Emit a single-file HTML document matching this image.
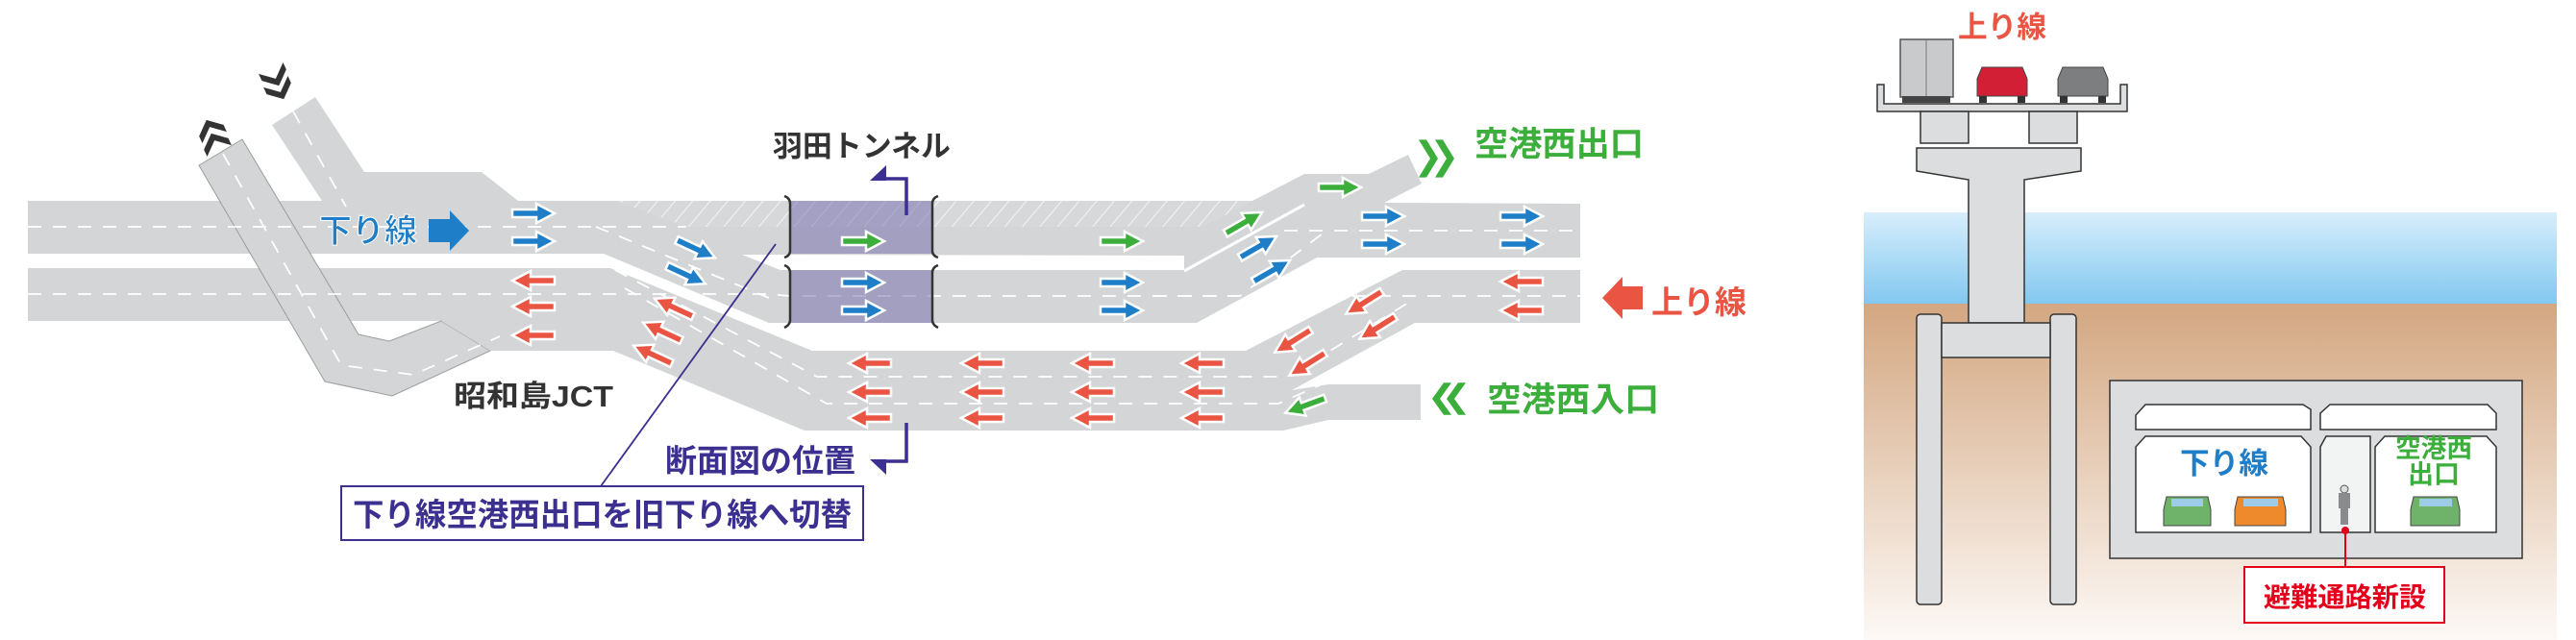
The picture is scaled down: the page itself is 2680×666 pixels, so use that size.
<!DOCTYPE html>
<html><head><meta charset="utf-8"><style>
html,body{margin:0;padding:0;background:#fff;}
svg{display:block;}
text{font-family:"Liberation Sans","Noto Sans CJK JP",sans-serif;font-weight:bold;}
</style></head><body>
<svg width="2680" height="666" viewBox="0 0 2680 666" xmlns="http://www.w3.org/2000/svg">
<defs>
<path id="ar" d="M-22,-4 L3,-4 L3,-10 L22,0 L3,10 L3,4 L-22,4 Z" stroke="#fff" stroke-width="2.5" stroke-linejoin="miter"/>
<path id="chev" d="M-10,-14 L-2,-14 L10,0 L-2,14 L-10,14 L2,0 Z"/>
<pattern id="hatch" width="14" height="14" patternUnits="userSpaceOnUse" patternTransform="rotate(40)">
<rect width="14" height="14" fill="#d6d8d9"/><line x1="0" y1="0" x2="0" y2="14" stroke="#f4f4f4" stroke-width="2"/></pattern>
<linearGradient id="sea" x1="0" y1="0" x2="0" y2="1"><stop offset="0" stop-color="#d8eefb"/><stop offset="1" stop-color="#82c8ef"/></linearGradient>
<linearGradient id="soil" x1="0" y1="0" x2="0" y2="1"><stop offset="0" stop-color="#d3a781"/><stop offset="1" stop-color="#fdf9f6"/></linearGradient>
</defs>

<polygon points="283,130 328,101 379,179 501,179 539,209 335,209" fill="#d3d5d6"/>
<polygon points="29,209 1303,209 1357,181 1424,181 1465,161 1479,191 1440,211 1644,212 1644,268 1370,268 1245,336 800,336 628,264 29,264" fill="#d3d5d6"/>
<polygon points="29,279 635,279 845,365 1296,365 1459,281 1644,281 1644,336 1472,336 1344,406 1382,400 1478,400 1478,437 1382,437 1335,448 837,448 638,365 510,365 459,334 29,334" fill="#d3d5d6"/>
<polygon points="772,265 1232,266 1232,281 812,281" fill="#fff"/>
<polygon points="641,209 1303,209 1252,236 714,236" fill="url(#hatch)"/>
<line x1="1232" y1="282" x2="1357" y2="213" stroke="#fff" stroke-width="3"/>

<polygon points="207,172 252,145 373,348 405,355 459,334 510,365 408,412 338,397" fill="#d3d5d6" stroke="#9a9c9e" stroke-width="1"/>
<polygon points="459,334 510,365 638,365 637,334" fill="#d3d5d6"/>

<g stroke="#fff" stroke-width="1.8" stroke-dasharray="14,12" fill="none">
<path d="M29,236 L714,236"/>
<path d="M29,306 L800,306 L821,308 L1644,308"/>
<path d="M1336,240 L1644,240"/>
<path d="M1200,308 L1290,308 L1380,240"/>
<path d="M640,281 L850,392 L1340,392 L1470,312"/>
<path d="M650,300 L860,420 L1330,420 L1375,400"/>
<path d="M232,160 L355,380 L430,390 L520,350"/>
<path d="M305,116 L360,215"/>
<path d="M620,236 L800,310"/>
</g>

<rect x="821" y="209" width="150" height="55" fill="#7a73b0" opacity="0.55"/>
<rect x="821" y="281" width="150" height="55" fill="#7a73b0" opacity="0.55"/>
<g stroke="#333" stroke-width="2.5" fill="none">
<path d="M816,204 Q822,206 822,212 L822,261 Q822,266 816,268"/>
<path d="M976,204 Q970,206 970,212 L970,261 Q970,266 976,268"/>
<path d="M816,276 Q822,278 822,284 L822,333 Q822,338 816,341"/>
<path d="M976,276 Q970,278 970,284 L970,333 Q970,338 976,341"/>
</g>

<path d="M943,224 L943,186 L918,186" stroke="#3b2f8f" stroke-width="3.5" fill="none"/>
<polygon points="922,172 922,188 905,188" fill="#3b2f8f"/>
<path d="M943,440 L943,480 L918,480" stroke="#3b2f8f" stroke-width="3.5" fill="none"/>
<polygon points="922,478 922,494 905,478" fill="#3b2f8f"/>
<line x1="625" y1="506" x2="807" y2="254" stroke="#3b2f8f" stroke-width="1.8"/>
<rect x="355" y="506" width="543" height="56" fill="#fff" stroke="#3b2f8f" stroke-width="2"/>
<text x="367" y="547" font-size="33" fill="#3b2f8f" textLength="519" lengthAdjust="spacingAndGlyphs">下り線空港西出口を旧下り線へ切替</text>

<g fill="#333">
<use href="#chev" transform="translate(219,134) rotate(-115)"/>
<use href="#chev" transform="translate(224,148) rotate(-115)"/>
<use href="#chev" transform="translate(286,80) rotate(65)"/>
<use href="#chev" transform="translate(291,94) rotate(65)"/>
</g>
<g fill="#3bae3b">
<use href="#chev" transform="translate(1486,165) scale(1,1.4)"/>
<use href="#chev" transform="translate(1503,165) scale(1,1.4)"/>
<use href="#chev" transform="translate(1500,415) rotate(180) scale(1,1.2)"/>
<use href="#chev" transform="translate(1515,415) rotate(180) scale(1,1.2)"/>
</g>

<path d="M446,228 L468,228 L468,219 L488,240 L468,261 L468,252 L446,252 Z" fill="#1f7ec8"/>
<path d="M1709,298 L1688,298 L1688,288 L1667,310 L1688,332 L1688,322 L1709,322 Z" fill="#ea5543"/>

<g fill="#1f7ec8">
<use href="#ar" transform="translate(555,222)"/><use href="#ar" transform="translate(555,251)"/>
<use href="#ar" transform="translate(724,259) rotate(25)"/><use href="#ar" transform="translate(714,286) rotate(25)"/>
<use href="#ar" transform="translate(898,294)"/><use href="#ar" transform="translate(898,323)"/>
<use href="#ar" transform="translate(1167,294)"/><use href="#ar" transform="translate(1167,323)"/>
<use href="#ar" transform="translate(1439,225)"/><use href="#ar" transform="translate(1439,254)"/>
<use href="#ar" transform="translate(1583,225)"/><use href="#ar" transform="translate(1583,254)"/>
<use href="#ar" transform="translate(1309,257) rotate(-30)"/><use href="#ar" transform="translate(1323,282) rotate(-30)"/>
</g>
<g fill="#3bae3b">
<use href="#ar" transform="translate(898,251)"/><use href="#ar" transform="translate(1167,251)"/>
<use href="#ar" transform="translate(1394,195)"/><use href="#ar" transform="translate(1294,232) rotate(-30)"/>
<use href="#ar" transform="translate(1358,422) rotate(160)"/>
</g>
<g fill="#ea5543">
<use href="#ar" transform="translate(555,292) rotate(180)"/><use href="#ar" transform="translate(555,319) rotate(180)"/><use href="#ar" transform="translate(555,349) rotate(180)"/>
<use href="#ar" transform="translate(701,320) rotate(205)"/><use href="#ar" transform="translate(689,345) rotate(205)"/><use href="#ar" transform="translate(679,369) rotate(205)"/>
<use href="#ar" transform="translate(905,378) rotate(180)"/><use href="#ar" transform="translate(905,408) rotate(180)"/><use href="#ar" transform="translate(905,435) rotate(180)"/>
<use href="#ar" transform="translate(1022,378) rotate(180)"/><use href="#ar" transform="translate(1022,408) rotate(180)"/><use href="#ar" transform="translate(1022,435) rotate(180)"/>
<use href="#ar" transform="translate(1137,378) rotate(180)"/><use href="#ar" transform="translate(1137,408) rotate(180)"/><use href="#ar" transform="translate(1137,435) rotate(180)"/>
<use href="#ar" transform="translate(1251,378) rotate(180)"/><use href="#ar" transform="translate(1251,408) rotate(180)"/><use href="#ar" transform="translate(1251,435) rotate(180)"/>
<use href="#ar" transform="translate(1419,315) rotate(148)"/><use href="#ar" transform="translate(1433,341) rotate(148)"/>
<use href="#ar" transform="translate(1345,355) rotate(148)"/><use href="#ar" transform="translate(1360,379) rotate(148)"/>
<use href="#ar" transform="translate(1583,293) rotate(180)"/><use href="#ar" transform="translate(1583,323) rotate(180)"/>
</g>

<text x="332" y="252" font-size="34" fill="#1f7ec8" stroke="#fff" stroke-width="1" textLength="102" lengthAdjust="spacingAndGlyphs">下り線</text>
<text x="804" y="163" font-size="31" fill="#333" textLength="185" lengthAdjust="spacingAndGlyphs">羽田トンネル</text>
<text x="472" y="423" font-size="31" fill="#333" textLength="166" lengthAdjust="spacingAndGlyphs">昭和島JCT</text>
<text x="692" y="491" font-size="33" fill="#3b2f8f" textLength="198" lengthAdjust="spacingAndGlyphs">断面図の位置</text>
<text x="1534" y="162" font-size="35" fill="#3bae3b" textLength="176" lengthAdjust="spacingAndGlyphs">空港西出口</text>
<text x="1718" y="326" font-size="33" fill="#ea5543" textLength="99" lengthAdjust="spacingAndGlyphs">上り線</text>
<text x="1547" y="428" font-size="35" fill="#3bae3b" textLength="179" lengthAdjust="spacingAndGlyphs">空港西入口</text>

<rect x="1939" y="221" width="721" height="95" fill="url(#sea)"/>
<rect x="1939" y="316" width="721" height="350" fill="url(#soil)"/>
<text x="2037" y="39" font-size="31" fill="#ea5543" textLength="92" lengthAdjust="spacingAndGlyphs">上り線</text>
<path d="M1953,88 L1960,88 L1960,108 L2206,108 L2206,88 L2213,88 L2213,116 L1953,116 Z" fill="#dcddde" stroke="#333" stroke-width="1.5"/>
<rect x="1998" y="116" width="50" height="33" fill="#dcddde" stroke="#333" stroke-width="1.5"/>
<rect x="2111" y="116" width="50" height="33" fill="#dcddde" stroke="#333" stroke-width="1.5"/>
<path d="M1994,154 L2165,154 L2165,178 L2106,187 L2106,336 L2048,336 L2048,187 L1994,178 Z" fill="#dcddde" stroke="#333" stroke-width="1.5"/>
<rect x="1994" y="327" width="26" height="302" rx="4" fill="#dcddde" stroke="#333" stroke-width="1.5"/>
<rect x="2133" y="327" width="27" height="302" rx="4" fill="#dcddde" stroke="#333" stroke-width="1.5"/>
<rect x="2020" y="336" width="113" height="36" fill="#dcddde" stroke="#333" stroke-width="1.5"/>
<rect x="1977" y="41" width="55" height="60" fill="#c9cacb" stroke="#555" stroke-width="1.5"/>
<line x1="2004" y1="41" x2="2004" y2="101" stroke="#777"/>
<rect x="1979" y="100" width="50" height="7" fill="#444"/>
<path d="M2062,70 L2104,70 L2109,82 L2109,100 L2057,100 L2057,82 Z" fill="#d21f35" stroke="#444"/>
<rect x="2059" y="100" width="8" height="7" fill="#333"/><rect x="2099" y="100" width="8" height="7" fill="#333"/>
<path d="M2146,70 L2188,70 L2193,82 L2193,100 L2141,100 L2141,82 Z" fill="#7d7e80" stroke="#444"/>
<rect x="2143" y="100" width="8" height="7" fill="#333"/><rect x="2183" y="100" width="8" height="7" fill="#333"/>
<rect x="2195" y="396" width="429" height="185" fill="#dcddde" stroke="#333" stroke-width="1.5"/>
<path d="M2222,447 L2222,432 L2232,421 L2396,421 L2404,426 L2404,447 Z" fill="#fff" stroke="#333" stroke-width="1.5"/>
<path d="M2414,447 L2414,430 L2424,421 L2588,421 L2597,430 L2597,447 Z" fill="#fff" stroke="#333" stroke-width="1.5"/>
<path d="M2222,554 L2222,465 L2232,454 L2394,454 L2404,465 L2404,554 Z" fill="#fff" stroke="#333" stroke-width="1.5"/>
<path d="M2414,554 L2414,465 L2420,454 L2466,454 L2466,554 Z" fill="#f2f3f3" stroke="#333" stroke-width="1.5"/>
<path d="M2471,554 L2471,465 L2481,454 L2587,454 L2597,465 L2597,554 Z" fill="#fff" stroke="#333" stroke-width="1.5"/>
<text x="2268" y="493" font-size="31" fill="#1f7ec8" textLength="92" lengthAdjust="spacingAndGlyphs">下り線</text>
<text x="2492" y="476" font-size="27" fill="#3bae3b" textLength="80" lengthAdjust="spacingAndGlyphs">空港西</text>
<text x="2505" y="503" font-size="27" fill="#3bae3b" textLength="54" lengthAdjust="spacingAndGlyphs">出口</text>
<path d="M2254,517 L2297,517 L2300,530 L2300,547 L2251,547 L2251,530 Z" fill="#6fb36b" stroke="#444"/>
<rect x="2259" y="519" width="33" height="8" fill="#9ecbe8"/>
<path d="M2328,517 L2375,517 L2378,530 L2378,547 L2325,547 L2325,530 Z" fill="#ee8a2c" stroke="#444"/>
<rect x="2334" y="519" width="36" height="8" fill="#9ecbe8"/>
<path d="M2511,517 L2556,517 L2559,530 L2559,547 L2508,547 L2508,530 Z" fill="#6fb36b" stroke="#444"/>
<rect x="2517" y="519" width="34" height="8" fill="#9ecbe8"/>
<rect x="2435" y="505" width="8" height="8" rx="4" fill="#ddd" stroke="#555"/>
<rect x="2433" y="513" width="12" height="16" fill="#8a8b8d"/>
<rect x="2435" y="529" width="8" height="17" fill="#8a8b8d"/>
<circle cx="2440" cy="552" r="4" fill="#e3001b"/>
<line x1="2440" y1="552" x2="2440" y2="590" stroke="#e3001b" stroke-width="2"/>
<rect x="2335" y="590" width="208" height="58" fill="#fff" stroke="#e3001b" stroke-width="2"/>
<text x="2355" y="631" font-size="28" fill="#e3001b" textLength="169" lengthAdjust="spacingAndGlyphs">避難通路新設</text>
</svg>
</body></html>
